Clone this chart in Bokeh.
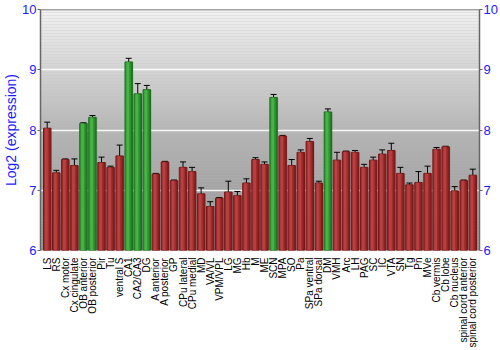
import numpy as np
from bokeh.plotting import figure
from bokeh.layouts import column
from bokeh.models import (ColumnDataSource, Whisker, LinearAxis, Span, FixedTicker,
                          FactorRange, Range1d, TeeHead, BoxAnnotation)
from bokeh.core.properties import value
from bokeh.transform import dodge
from bokeh.embed import file_html
from bokeh.resources import INLINE

regions = ["LS", "RS", "Cx motor", "Cx cingulate", "OB anterior", "OB posterior", "Pir", "Tu",
           "ventral S", "CA1", "CA2/CA3", "DG", "A anterior", "A posterior", "GP", "CPu lateral",
           "CPu medial", "MD", "VA/VL", "VPM/VPL", "LG", "MG", "Hb", "M", "ME", "SCN", "MPA", "SO",
           "Pa", "SPa ventral", "SPa dorsal", "DM", "VMH", "Arc", "LH", "PAG", "SC", "IC", "VTA",
           "SN", "Tg", "Pn", "MVe", "Cb vermis", "Cb lobe", "Cb nucleus", "spinal cord anterior",
           "spinal cord posterior"]
values = [8.03, 7.29, 7.51, 7.41, 8.11, 8.21, 7.46, 7.38,
          7.57, 9.13, 8.60, 8.67, 7.27, 7.47, 7.16, 7.38,
          7.31, 6.94, 6.73, 6.87, 6.97, 6.91, 7.12, 7.51, 7.43, 8.54, 7.90, 7.41,
          7.63, 7.81, 7.12, 8.30, 7.50, 7.64, 7.63, 7.38, 7.50, 7.60, 7.66,
          7.28, 7.09, 7.13, 7.28, 7.68, 7.72, 6.99, 7.16,
          7.25]
errors = [0.10, 0.04, 0.01, 0.11, 0.01, 0.03, 0.09, 0.02,
          0.18, 0.06, 0.17, 0.07, 0.01, 0.01, 0.01, 0.09,
          0.07, 0.10, 0.08, 0.01, 0.18, 0.07, 0.07, 0.03, 0.04, 0.05, 0.01, 0.10,
          0.04, 0.05, 0.03, 0.05, 0.13, 0.01, 0.03, 0.05, 0.05, 0.07, 0.12,
          0.10, 0.03, 0.18, 0.12, 0.03, 0.01, 0.07, 0.01,
          0.10]
enriched = ["OB anterior", "OB posterior", "CA1", "CA2/CA3", "DG", "SCN", "DM"]
y_ticks = [6, 7, 8, 9, 10]

fill = ["#2f9a2f" if r in enriched else "#a32a2a" for r in regions]
edge = ["#1d6e1d" if r in enriched else "#741818" for r in regions]
shine = ["#5cc75c" if r in enriched else "#c55555" for r in regions]
shade = ["#1a5e1a" if r in enriched else "#6e1414" for r in regions]

YMIN, YMAX = y_ticks[0], y_ticks[-1]
src = ColumnDataSource(dict(region=regions, value=values,
                            upper=[v + e for v, e in zip(values, errors)],
                            lower=[v - e for v, e in zip(values, errors)],
                            top=[YMAX] * len(regions),
                            fill=fill, edge=edge, shine=shine, shade=shade))

FONT = "Liberation Sans"
BLUE = "#1a1aff"
xr = FactorRange(*regions, range_padding=0.01, factor_padding=0.0)


def style_axes(fig, visible=True):
    mid = y_ticks[2]
    ticks = FixedTicker(ticks=y_ticks if visible else [mid])
    ax = fig.yaxis[0]
    ax.ticker = ticks
    ax.axis_label = "Log2 (expression)" if visible else "L"
    ax.axis_label_text_font = FONT
    ax.axis_label_text_font_style = "normal"
    ax.axis_label_text_font_size = "14px"
    ax.axis_label_standoff = 0
    raxis = LinearAxis(ticker=ticks)
    fig.add_layout(raxis, "right")
    for a in [ax, raxis]:
        a.major_tick_out = 3
        a.major_tick_in = 0
        a.minor_tick_line_color = None
        a.major_label_text_font = FONT
        a.major_label_text_font_size = "13px"
        a.major_label_standoff = 1
        if visible:
            a.axis_line_color = "#666666"
            a.axis_line_width = 1.5
            a.major_tick_line_color = "#666666"
            a.major_label_text_color = BLUE
        else:
            # spacer axes: same width as the chart's axes so the frames line up
            a.major_label_overrides = {mid: str(YMAX)}
            a.axis_line_color = None
            a.major_tick_line_color = None
            a.major_label_text_color = "white"
            a.major_label_text_alpha = 0
    ax.axis_label_text_color = BLUE if visible else "white"
    if not visible:
        ax.axis_label_text_alpha = 0


p = figure(width=500, height=257, x_range=xr, y_range=Range1d(YMIN, YMAX),
           output_backend="svg", toolbar_location=None,
           min_border_left=34, min_border_right=20, min_border_top=9, min_border_bottom=7)
p.outline_line_color = None
p.background_fill_color = "#bbbbbb"
p.border_fill_color = "white"
p.xaxis.visible = False

# background gradient
edges = np.linspace(YMIN, YMAX, 81)
lev = np.interp((edges[:-1] + edges[1:]) / 2, [6, 7, 8, 9, 10], [152, 164, 182, 212, 242])
for b, t, l in zip(edges[:-1], edges[1:], lev):
    c = "#%02x%02x%02x" % (int(l), int(l), int(l))
    p.add_layout(BoxAnnotation(bottom=b, top=t, fill_color=c, fill_alpha=1.0,
                               line_color=None, level="image"))

p.ygrid.ticker = FixedTicker(ticks=y_ticks[1:-1])
p.ygrid.grid_line_color = "white"
p.ygrid.grid_line_width = 1.5
p.ygrid.grid_line_alpha = 0.9
p.xgrid.grid_line_color = None

p.vbar(x=dodge("region", 0.12, range=xr), top="value", bottom=YMIN, width=0.82, source=src,
       fill_color="black", fill_alpha=0.12, line_color=None)
p.vbar(x="region", top="value", bottom=YMIN, width=0.82, source=src,
       fill_color="fill", line_color="edge", line_width=1)
p.vbar(x=dodge("region", -0.1, range=xr), top="value", bottom=YMIN, width=0.3, source=src,
       fill_color="shine", fill_alpha=0.55, line_color=None)
p.vbar(x=dodge("region", 0.3, range=xr), top="value", bottom=YMIN, width=0.15, source=src,
       fill_color="shade", fill_alpha=0.5, line_color=None)

w = Whisker(source=src, base="region", upper="upper", lower="lower",
            line_color="black", line_width=1,
            upper_head=TeeHead(size=6, line_color="black", line_width=1),
            lower_head=TeeHead(size=6, line_color="black", line_width=1))
p.add_layout(w)
p.add_layout(Span(location=YMAX, dimension="width", line_color="#666666", line_width=1.5))
style_axes(p, True)

# category labels strip (same frame geometry as the chart)
p2 = figure(width=500, height=93, x_range=xr, y_range=Range1d(YMIN, YMAX),
            output_backend="svg", toolbar_location=None,
            min_border_left=34, min_border_right=20, min_border_top=0, min_border_bottom=0)
p2.outline_line_color = None
p2.background_fill_color = "white"
p2.border_fill_color = "white"
p2.grid.grid_line_color = None
p2.xaxis.visible = False
style_axes(p2, False)
p2.text(x="region", y="top", text="region", source=src, angle=np.pi / 2,
        text_align="right", text_baseline="middle", y_offset=0,
        text_font=value(FONT), text_font_size="10px", text_color="black")

layout = column(p, p2, spacing=0)
open("out.html", "w").write(file_html(layout, INLINE))
